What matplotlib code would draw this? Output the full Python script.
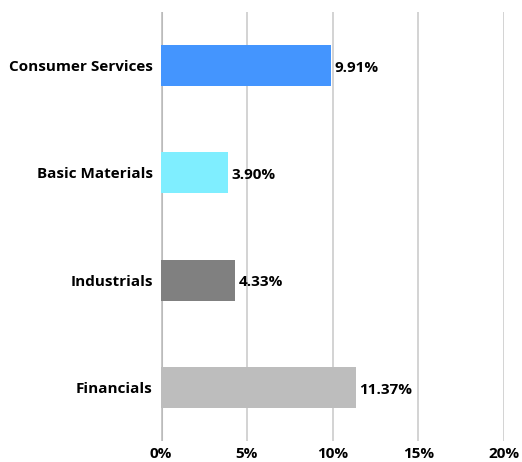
import matplotlib
matplotlib.use("Agg")
import matplotlib.pyplot as plt
from matplotlib.ticker import FuncFormatter

categories = ["Consumer Services", "Basic Materials", "Industrials", "Financials"]
values = [9.91, 3.90, 4.33, 11.37]
colors = ["#4495FE", "#7FEEFF", "#808080", "#BDBDBD"]
xticks = [0, 5, 10, 15, 20]

plt.rcParams['font.family'] = ['Open Sans', 'DejaVu Sans']
FS = 11

fig = plt.figure(figsize=(5.22, 4.62), dpi=100)
ax = fig.add_axes([161/522, 21/462, 343/522, 429/462])

ypos = list(range(len(categories)))
ax.barh(ypos, values, height=0.38, color=colors, zorder=3)
for y, v in zip(ypos, values):
    ax.text(v + 0.2, y + 0.02, f"{v:.2f}%", va="center", ha="left",
            fontsize=FS, fontweight="bold", color="#000000")

ax.set_xlim(0, 20)
ax.set_ylim(3.5, -0.5)
ax.set_yticks(ypos)
ax.set_yticklabels(categories, fontsize=FS, fontweight="bold", color="#000000")
ax.set_xticks(xticks)
ax.xaxis.set_major_formatter(FuncFormatter(lambda x, p: f"{x:.0f}%"))
for lab in ax.get_xticklabels():
    lab.set_fontweight("bold")
    lab.set_fontsize(FS)
    lab.set_color("#000000")
ax.tick_params(axis="both", length=0)
ax.tick_params(axis="x", pad=4)
ax.tick_params(axis="y", pad=6)
for s in ax.spines.values():
    s.set_visible(False)
ax.grid(axis="x", color="#cccccc", linewidth=1.2, zorder=0)
ax.axvline(0, color="#bbbbbb", linewidth=2.2, zorder=1)

fig.savefig("out.png", dpi=100)
